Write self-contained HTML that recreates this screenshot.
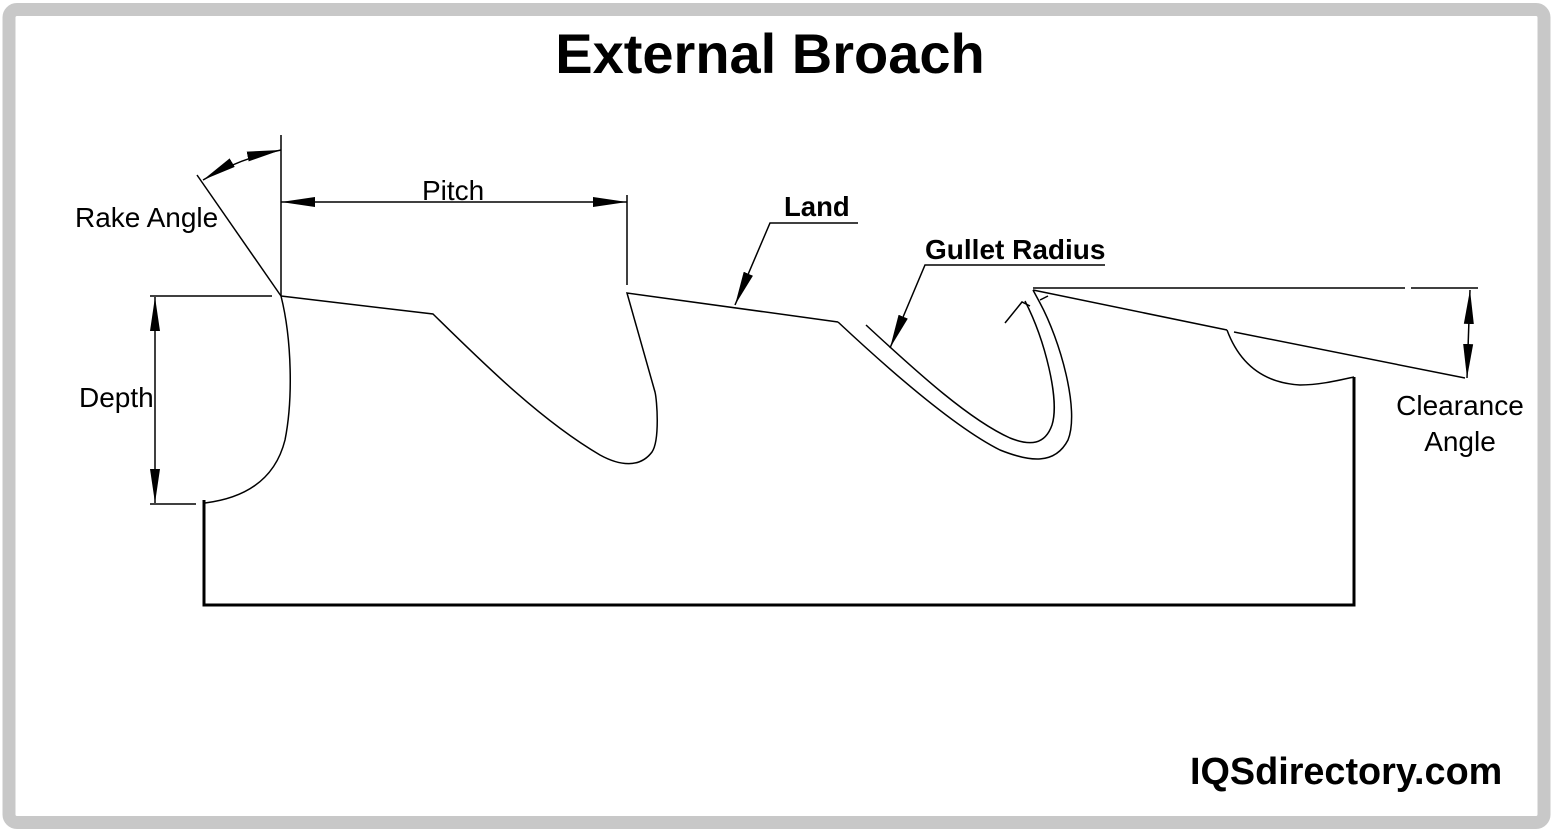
<!DOCTYPE html>
<html><head><meta charset="utf-8"><style>
html,body{margin:0;padding:0;background:#fff;}
svg{display:block;}
text{font-family:"Liberation Sans",sans-serif;fill:#000;}
</style></head><body>
<svg width="1553" height="832" viewBox="0 0 1553 832" xmlns="http://www.w3.org/2000/svg">
<defs>
<marker id="a" markerWidth="34" markerHeight="12" refX="34" refY="6" orient="auto-start-reverse" markerUnits="userSpaceOnUse">
<path d="M0,1 L34,6 L0,11 Z" fill="#000"/></marker>
</defs>
<rect x="9" y="9.5" width="1535" height="813" rx="8" fill="#fff" stroke="#c8c8c8" stroke-width="13"/>
<text x="770" y="73" font-size="56" font-weight="bold" text-anchor="middle">External Broach</text>
<g fill="none" stroke="#000" stroke-width="1.5">
<line x1="197" y1="175" x2="281" y2="296"/>
<line x1="281" y1="135" x2="281" y2="296"/>
<path d="M203,180 Q240,158 281,150" marker-start="url(#a)" marker-end="url(#a)"/>
<line x1="281" y1="202" x2="627" y2="202" marker-start="url(#a)" marker-end="url(#a)"/>
<line x1="627" y1="195" x2="627" y2="285"/>
<line x1="150" y1="296" x2="272" y2="296"/>
<line x1="150" y1="504" x2="196" y2="504"/>
<line x1="155" y1="297" x2="155" y2="503" marker-start="url(#a)" marker-end="url(#a)"/>
<path d="M281,296 C292,340 293,400 285,440 C275,480 245,498 205,503"/>
<path d="M281,296 L433,314 C480,360 540,420 600,455 C620,466 640,468 652,452 C660,440 657,400 655,392 L627,293 L838,322"/>
<path d="M838,322 C900,380 960,430 1000,450 C1030,462 1055,465 1068,440 C1080,410 1060,340 1040,303 L1033,290"/>
<path d="M866,325 C920,375 970,420 1010,438 C1030,446 1045,445 1052,425 C1060,400 1045,340 1025,301"/>
<path d="M1005,323 L1022,302 L1030,306 M1040,300 L1048,296"/>
<path d="M1033,290 L1227,330 M1234,332 L1465,378"/>
<line x1="1033" y1="288" x2="1405" y2="288"/>
<line x1="1411" y1="288" x2="1478" y2="288"/>
<line x1="1470" y1="290" x2="1467" y2="378" marker-start="url(#a)" marker-end="url(#a)"/>
<path d="M1227,330 C1240,365 1265,383 1300,385 C1320,385 1340,380 1354,377"/>
<path d="M858,223 L770,223 L735,305" marker-end="url(#a)"/>
<path d="M1105,265 L925,265 L890,348" marker-end="url(#a)"/>
</g>
<g fill="none" stroke="#000" stroke-width="3">
<path d="M204,500 L204,605 L1354,605 L1354,377"/>
</g>
<text x="75" y="227" font-size="28">Rake Angle</text>
<text x="422" y="200" font-size="28">Pitch</text>
<text x="784" y="216" font-size="27.5" font-weight="bold">Land</text>
<text x="925" y="259" font-size="28" font-weight="bold">Gullet Radius</text>
<text x="79" y="407" font-size="28">Depth</text>
<text x="1460" y="415" font-size="28" text-anchor="middle">Clearance</text>
<text x="1460" y="451" font-size="28" text-anchor="middle">Angle</text>
<text x="1190" y="784" font-size="37.8" font-weight="bold">IQSdirectory.com</text>
</svg>
</body></html>
